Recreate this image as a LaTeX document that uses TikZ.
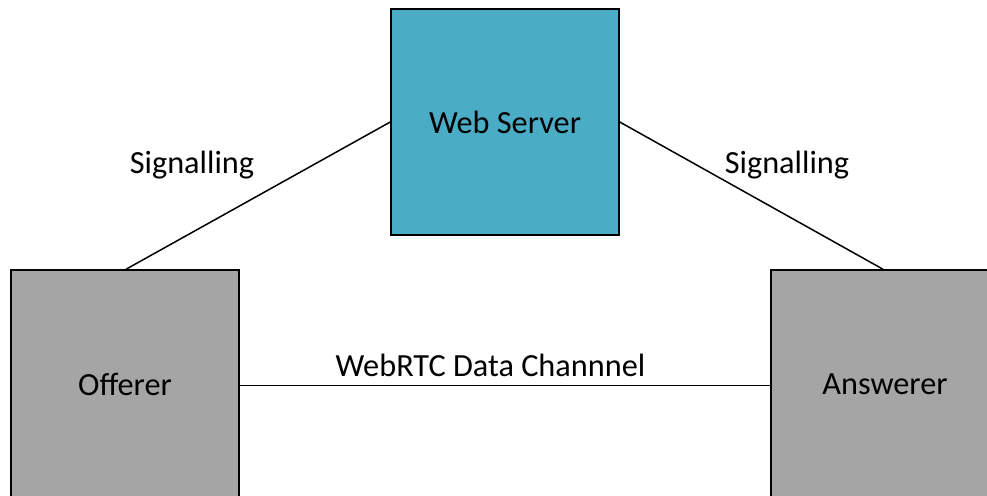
\documentclass[tikz,border=0pt]{standalone}
\usepackage{fontspec}
\setmainfont{Carlito}
\definecolor{serverblue}{HTML}{4BACC6}
\definecolor{peergrey}{HTML}{A5A5A5}
\begin{document}
\begin{tikzpicture}[x=1pt,y=-1pt,
  every node/.style={font=\fontsize{32.3}{38}\selectfont, inner sep=0pt},
  block/.style={draw=black, line width=1.5pt, minimum width=228pt, minimum height=226pt},
  link/.style={draw=black, line width=1.5pt}]
  \useasboundingbox (0,0) rectangle (987,495);
  \clip (0,0) rectangle (987,495);

  % the three parties
  \node[block, fill=serverblue] (web) at (505,122) {Web Server};
  \node[block, fill=peergrey, minimum height=228pt] (off) at (125,384) {Offerer};
  \node[block, fill=peergrey, minimum height=228pt] (ans) at (885,384) {Answerer};

  % signalling paths and the direct data channel
  \draw[link] ([xshift=1pt]off.north) -- (web.west);
  \draw[link] (web.east) -- ([xshift=-2pt]ans.north);
  \draw[link] ([yshift=-1.5pt]off.east) -- ([yshift=-1.5pt]ans.west);

  % labels
  \node[anchor=base] (sigl) at (192,173) {Signalling};
  \node[anchor=base] (sigr) at (787,173) {Signalling};
  \node[anchor=base] (chan) at (490.5,376) {WebRTC Data Channnel};
\end{tikzpicture}
\end{document}
